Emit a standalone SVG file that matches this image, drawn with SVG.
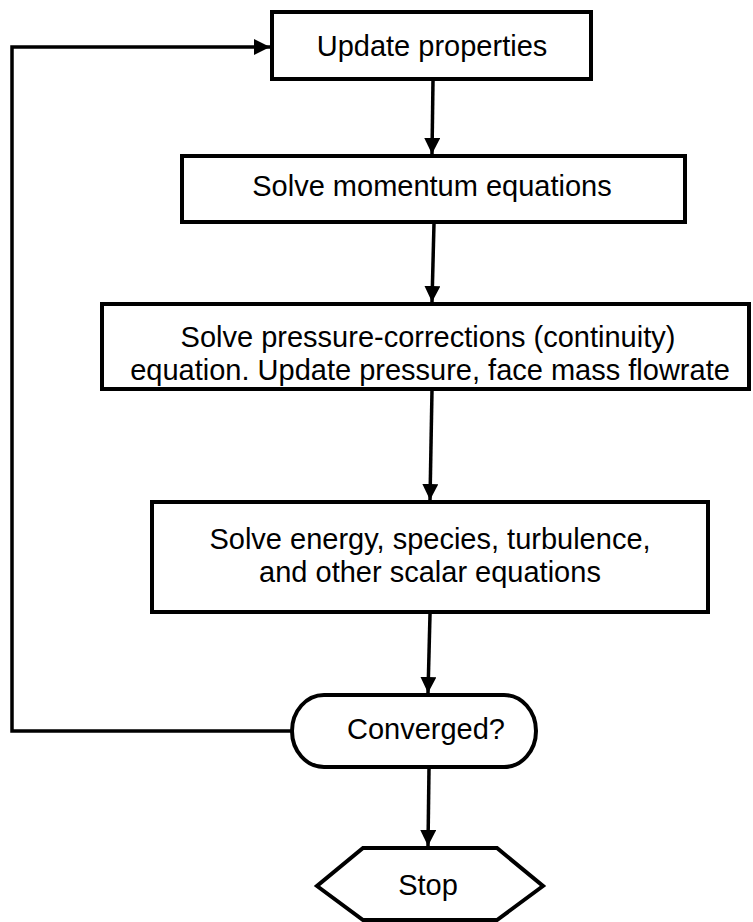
<svg xmlns="http://www.w3.org/2000/svg" width="753" height="922" viewBox="0 0 753 922">
<style>
.box{fill:#fff;stroke:#000;stroke-width:4}
.lbl{font-family:"Liberation Sans",Arial,sans-serif;font-size:29px;fill:#000;text-anchor:middle}
.con{fill:none;stroke:#000;stroke-width:3.5}
</style>
<defs>
<marker id="ah" markerUnits="userSpaceOnUse" markerWidth="18" markerHeight="16" refX="16" refY="8" orient="auto">
<path d="M0,0 L16,8 L0,16 Z" fill="#000"/>
</marker>
</defs>
<rect width="753" height="922" fill="#fff"/>
<g id="connectors">
<path class="con" d="M433,80 L432,154" marker-end="url(#ah)"/>
<path class="con" d="M434,223 L432,302" marker-end="url(#ah)"/>
<path class="con" d="M432,390 L430,500" marker-end="url(#ah)"/>
<path class="con" d="M430,614 L428,693" marker-end="url(#ah)"/>
<path class="con" d="M429,768 L428,846" marker-end="url(#ah)"/>
<path class="con" d="M291,731 L12,731 L12,47 L270,47" marker-end="url(#ah)"/>
</g>
<g id="update">
<rect class="box" x="272" y="12" width="319" height="67"/>
<text class="lbl" x="432" y="56">Update properties</text>
</g>
<g id="momentum">
<rect class="box" x="182" y="156" width="503" height="66"/>
<text class="lbl" x="432" y="196">Solve momentum equations</text>
</g>
<g id="pressure">
<rect class="box" x="102" y="304" width="647" height="85"/>
<text class="lbl" x="428" y="347">Solve pressure-corrections (continuity)</text>
<text class="lbl" x="430" y="380">equation. Update pressure, face mass flowrate</text>
</g>
<g id="energy">
<rect class="box" x="152" y="502" width="556" height="110"/>
<text class="lbl" x="430" y="549">Solve energy, species, turbulence,</text>
<text class="lbl" x="430" y="582">and other scalar equations</text>
</g>
<g id="converged">
<rect class="box" x="292" y="695" width="244" height="72" rx="32" ry="36"/>
<text class="lbl" x="426" y="739">Converged?</text>
</g>
<g id="stop">
<polygon class="box" points="363,848 497,848 543,886 497,920 363,920 317,886"/>
<text class="lbl" x="428" y="895">Stop</text>
</g>
</svg>
